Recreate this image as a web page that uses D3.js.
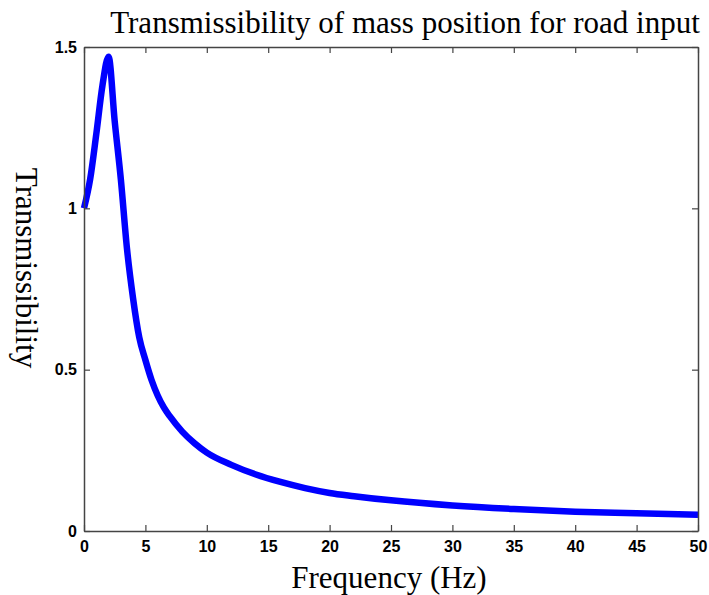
<!DOCTYPE html>
<html>
<head>
<meta charset="utf-8">
<script src="https://cdn.jsdelivr.net/npm/d3@7"></script>
<style>
  body { margin: 0; background: #fff; }
</style>
</head>
<body>
<div id="chart-area"></div>
<script>
// transmissibility
const freq = [0, 0.5, 1, 1.5, 2, 2.5, 3, 3.5, 4, 4.5, 5, 5.5, 6, 6.5, 7, 8, 9, 10, 12, 14, 16, 18, 20, 22, 25, 30, 35, 40, 45, 50]
const trans = [1.0, 1.09, 1.23, 1.38, 1.47, 1.27, 1.09, 0.875, 0.72, 0.6, 0.53, 0.468, 0.42, 0.383, 0.355, 0.308, 0.272, 0.243, 0.205, 0.175, 0.152, 0.133, 0.118, 0.108, 0.095, 0.079, 0.068, 0.06, 0.055, 0.05]
const xTicks = [0, 5, 10, 15, 20, 25, 30, 35, 40, 45, 50]
const yTicks = [0, 0.5, 1, 1.5]

const MARGIN = {LEFT: 84, RIGHT: 11, TOP: 47, BOTTOM: 64}
const WIDTH = 709 - MARGIN.LEFT - MARGIN.RIGHT
const HEIGHT = 595 - MARGIN.TOP - MARGIN.BOTTOM

const svg = d3.select("#chart-area").append("svg")
  .attr("width", 709)
  .attr("height", 595)

const g = svg.append("g")
  .attr("transform", `translate(${MARGIN.LEFT}, ${MARGIN.TOP})`)

const x = d3.scaleLinear().domain([0, 50]).range([0, WIDTH])
const y = d3.scaleLinear().domain([0, 1.5]).range([HEIGHT, 0])

const data = freq.map((f, i) => ({f: f, t: trans[i]}))

// curve
g.append("path")
  .datum(data)
  .attr("fill", "none")
  .attr("stroke", "#0000ff")
  .attr("stroke-width", 6.5)
  .attr("stroke-linejoin", "round")
  .attr("d", d3.line().x(d => x(d.f)).y(d => y(d.t)).curve(d3.curveMonotoneX))

// axes with inward ticks on all sides
const axisColor = "#444"
const tickFont = "bold 16px 'Liberation Sans', Arial, sans-serif"

const xAxis = g.append("g")
  .attr("transform", `translate(0, ${HEIGHT})`)
  .call(d3.axisBottom(x).tickValues(xTicks).tickSizeInner(-6).tickSizeOuter(0).tickPadding(10))
const yAxis = g.append("g")
  .call(d3.axisLeft(y).tickValues(yTicks).tickFormat(d => d).tickSizeInner(-6).tickSizeOuter(0).tickPadding(7))
const xTop = g.append("g")
  .call(d3.axisTop(x).tickValues(xTicks).tickSizeInner(-6).tickSizeOuter(0).tickFormat(""))
const yRight = g.append("g")
  .attr("transform", `translate(${WIDTH}, 0)`)
  .call(d3.axisRight(y).tickValues(yTicks).tickSizeInner(-6).tickSizeOuter(0).tickFormat(""))

;[xAxis, yAxis, xTop, yRight].forEach(a => {
  a.select(".domain").attr("stroke", axisColor).attr("stroke-width", 1.5)
  a.selectAll(".tick line").attr("stroke", axisColor).attr("stroke-width", 1.2)
  a.selectAll("text").style("font", tickFont).attr("fill", "#000")
})

// title and labels
const serif = "31px 'Liberation Serif', 'Times New Roman', serif"

svg.append("text")
  .attr("x", 405)
  .attr("y", 33)
  .attr("text-anchor", "middle")
  .style("font", serif)
  .text("Transmissibility of mass position for road input")

svg.append("text")
  .attr("x", 389)
  .attr("y", 588)
  .attr("text-anchor", "middle")
  .style("font", serif)
  .text("Frequency (Hz)")

svg.append("text")
  .attr("transform", "translate(16, 268) rotate(90)")
  .attr("text-anchor", "middle")
  .style("font", serif)
  .text("Transmissibility")
</script>
</body>
</html>
